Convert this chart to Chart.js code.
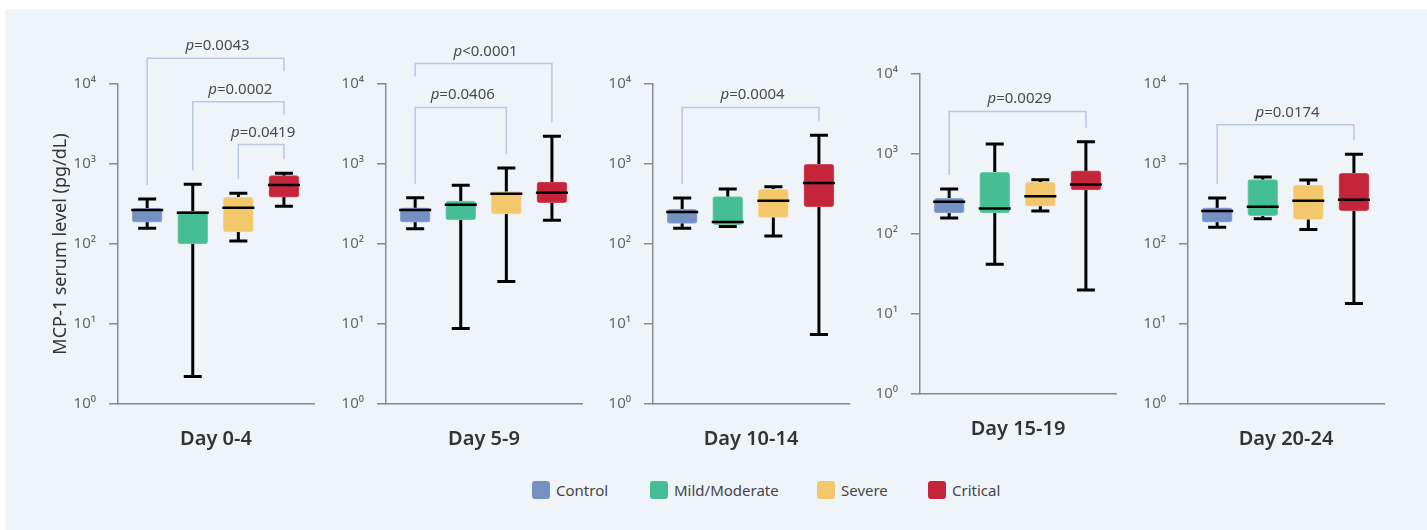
<!DOCTYPE html>
<html>
<head>
<meta charset="utf-8">
<script src="https://cdn.jsdelivr.net/npm/chart.js@4.4.1/dist/chart.umd.min.js"></script>
<style>
  html, body { margin: 0; padding: 0; background: #ffffff; width: 1427px; height: 530px; overflow: hidden; }
  #stage { position: absolute; left: 5px; top: 9px; width: 1422px; height: 521px; background: #eff4f9; }
  canvas { position: absolute; top: 0; }
  .key { position: absolute; top: 481px; height: 18px; display: flex; align-items: center;
         font-family: 'Noto Sans', sans-serif; font-size: 15px; color: #454545; white-space: nowrap; }
  .key i { display: inline-block; width: 18px; height: 18px; border-radius: 3px; margin-right: 6px; }
</style>
</head>
<body>
<div id="stage"></div>
<script>
// Patient groups and the sampling windows
const groups = ['Control', 'Mild/Moderate', 'Severe', 'Critical'];
const periods = ['Day 0-4', 'Day 5-9', 'Day 10-14', 'Day 15-19', 'Day 20-24'];
const tickValues = [1, 10, 100, 1000, 10000];
const tickLabels = ['10⁰', '10¹', '10²', '10³', '10⁴'];

// MCP-1 (pg/dL), one row per period, one value per group
const whiskerLow  = [[157, 2.2, 109, 296], [155, 8.8, 34, 198], [157, 166, 126, 7.4], [158, 42, 194, 20], [162, 207, 152, 18]];
const quartile1   = [[187, 100, 142, 384], [187, 200, 237, 329], [181, 174, 215, 293], [183, 183, 222, 355], [188, 226, 203, 261]];
const medians     = [[266, 246, 284, 546], [266, 310, 425, 438], [251, 188, 348, 579], [253, 209, 296, 417], [258, 293, 348, 358]];
const quartile3   = [[279, 258, 384, 714], [284, 345, 451, 596], [271, 391, 482, 991], [279, 590, 442, 618], [284, 637, 546, 764]];
const whiskerHigh = [[365, 557, 430, 765], [379, 542, 891, 2218], [376, 487, 521, 2282], [365, 1334, 477, 1425], [376, 688, 631, 1321]];

// Pairwise comparisons: period, first group, second group, bracket height (pg/dL), comparator, p value
const bracketPeriod = [0, 0, 0, 1, 1, 2, 3, 4];
const bracketFrom   = [0, 1, 2, 0, 0, 0, 0, 0];
const bracketTo     = [3, 3, 3, 3, 2, 3, 3, 3];
const bracketLevel  = [21000, 6000, 1750, 18000, 5100, 5100, 3400, 3100];
const bracketSign   = ['=', '=', '=', '<', '=', '=', '=', '='];
const bracketP      = ['0.0043', '0.0002', '0.0419', '0.0001', '0.0406', '0.0004', '0.0029', '0.0174'];

// Styling
const FONT = "'Noto Sans', sans-serif";
const fills   = ['#7591c3', '#46be95', '#f3c76b', '#c4253b'];
const edges   = ['#93a9d2', '#6fcdab', '#f6d590', '#cf4d5f'];
const AXIS = '#8a8a8a';
const BRACKET = '#b8c8e5';

// Panel placement on the page (canvas box and plot area edges)
const frames = [
  { left: 20,   width: 304, height: 470, plotLeft: 118,  plotRight: 314,  plotTop: 84, plotBottom: 404 },
  { left: 326,  width: 266, height: 470, plotLeft: 386,  plotRight: 582,  plotTop: 84, plotBottom: 404 },
  { left: 593,  width: 266, height: 470, plotLeft: 653,  plotRight: 849,  plotTop: 84, plotBottom: 404 },
  { left: 860,  width: 266, height: 460, plotLeft: 920,  plotRight: 1116, plotTop: 74, plotBottom: 394 },
  { left: 1128, width: 266, height: 470, plotLeft: 1188, plotRight: 1384, plotTop: 84, plotBottom: 404 }
];

Chart.defaults.font.family = FONT;

// Whiskers behind the boxes, medians on top
function boxPlotPlugin(p) {
  return {
    id: 'boxWhiskers' + p,
    beforeDatasetsDraw(chart) {
      const { ctx, scales: { x, y } } = chart;
      ctx.save();
      ctx.strokeStyle = '#000';
      ctx.lineWidth = 3;
      ctx.lineCap = 'butt';
      groups.forEach((g, i) => {
        const cx = x.getPixelForValue(i + 1);
        const yHi = y.getPixelForValue(whiskerHigh[p][i]);
        const yLo = y.getPixelForValue(whiskerLow[p][i]);
        ctx.beginPath();
        ctx.moveTo(cx, yHi); ctx.lineTo(cx, yLo);
        ctx.moveTo(cx - 9, yHi); ctx.lineTo(cx + 9, yHi);
        ctx.moveTo(cx - 9, yLo); ctx.lineTo(cx + 9, yLo);
        ctx.stroke();
      });
      ctx.restore();
    },
    afterDatasetsDraw(chart) {
      const { ctx, scales: { x, y } } = chart;
      ctx.save();
      ctx.strokeStyle = '#000';
      ctx.lineWidth = 2.5;
      groups.forEach((g, i) => {
        const cx = x.getPixelForValue(i + 1);
        const ym = y.getPixelForValue(medians[p][i]);
        ctx.beginPath();
        ctx.moveTo(cx - 16, ym); ctx.lineTo(cx + 16, ym);
        ctx.stroke();
      });
      ctx.restore();
    }
  };
}

// Significance brackets with p values
function bracketPlugin(p) {
  return {
    id: 'brackets' + p,
    afterDraw(chart) {
      const { ctx, scales: { x, y } } = chart;
      const mine = bracketPeriod.map((q, k) => k).filter(k => bracketPeriod[k] === p);
      ctx.save();
      mine.forEach(k => {
        const yBar = y.getPixelForValue(bracketLevel[k]);
        const legEnd = (gi) => {
          const nested = mine.some(j => j !== k && bracketLevel[j] < bracketLevel[k] &&
                                        bracketFrom[j] <= gi && bracketTo[j] >= gi);
          return nested ? yBar + 13 : y.getPixelForValue(whiskerHigh[p][gi]) - 14;
        };
        const x1 = x.getPixelForValue(bracketFrom[k] + 1);
        const x2 = x.getPixelForValue(bracketTo[k] + 1);
        ctx.strokeStyle = BRACKET;
        ctx.lineWidth = 1.5;
        ctx.beginPath();
        ctx.moveTo(x1, legEnd(bracketFrom[k]));
        ctx.lineTo(x1, yBar);
        ctx.lineTo(x2, yBar);
        ctx.lineTo(x2, legEnd(bracketTo[k]));
        ctx.stroke();

        const rest = bracketSign[k] + bracketP[k];
        ctx.font = 'italic 15px ' + FONT;
        const wp = ctx.measureText('p').width;
        ctx.font = '15px ' + FONT;
        const wr = ctx.measureText(rest).width;
        const start = (x1 + x2) / 2 - (wp + wr) / 2 + 2;
        ctx.fillStyle = '#4a4a4a';
        ctx.textBaseline = 'alphabetic';
        ctx.textAlign = 'left';
        ctx.font = 'italic 15px ' + FONT;
        ctx.fillText('p', start, yBar - 8);
        ctx.font = '15px ' + FONT;
        ctx.fillText(rest, start + wp, yBar - 8);
      });
      ctx.restore();
    }
  };
}

function makePanel(p) {
  const f = frames[p];
  const canvas = document.createElement('canvas');
  canvas.width = f.width;
  canvas.height = f.height;
  canvas.style.left = f.left + 'px';
  canvas.style.width = f.width + 'px';
  canvas.style.height = f.height + 'px';
  document.body.appendChild(canvas);

  const yWidth = f.plotLeft - f.left;
  const xHeight = f.height - f.plotBottom;

  new Chart(canvas, {
    type: 'bar',
    data: {
      datasets: [{
        data: groups.map((g, i) => ({ x: i + 1, y: [quartile1[p][i], quartile3[p][i]] })),
        backgroundColor: fills,
        borderColor: edges,
        borderWidth: 1,
        borderSkipped: false,
        borderRadius: 3,
        barThickness: 30
      }]
    },
    options: {
      responsive: false,
      animation: false,
      devicePixelRatio: 1,
      layout: { padding: { top: f.plotTop, left: 0, bottom: 0, right: f.left + f.width - f.plotRight } },
      plugins: { legend: { display: false }, tooltip: { enabled: false } },
      scales: {
        x: {
          type: 'linear',
          min: 0.36,
          max: 4.66,
          offset: false,
          grid: { display: false, offset: false },
          ticks: { display: false },
          border: { display: true, color: AXIS, width: 1.5 },
          title: {
            display: true,
            text: periods[p],
            color: '#333333',
            font: { size: 20, weight: '600' },
            padding: { top: 0, bottom: 19 }
          },
          afterFit(scale) { scale.height = xHeight; }
        },
        y: {
          type: 'logarithmic',
          min: 1,
          max: 10000,
          afterBuildTicks(scale) { scale.ticks = tickValues.map(v => ({ value: v })); },
          ticks: {
            autoSkip: false,
            color: '#666666',
            font: { size: 15 },
            padding: 13,
            callback: (v, idx) => tickLabels[idx]
          },
          grid: { drawOnChartArea: false, drawTicks: true, tickLength: 9, color: AXIS, lineWidth: 1.5 },
          border: { display: true, color: AXIS, width: 1.5 },
          title: p === 0 ? {
            display: true,
            text: 'MCP-1 serum level (pg/dL)',
            color: '#333333',
            font: { size: 18 },
            padding: { top: 30, bottom: 0 }
          } : { display: false },
          afterFit(scale) { scale.width = yWidth; }
        }
      }
    },
    plugins: [boxPlotPlugin(p), bracketPlugin(p)]
  });
}

periods.forEach((d, p) => makePanel(p));

// Group key
const keyLefts = [532, 650, 817, 928];
groups.forEach((g, i) => {
  const item = document.createElement('div');
  item.className = 'key';
  item.style.left = keyLefts[i] + 'px';
  const sw = document.createElement('i');
  sw.style.background = fills[i];
  item.appendChild(sw);
  item.appendChild(document.createTextNode(g));
  document.body.appendChild(item);
});
</script>
</body>
</html>
